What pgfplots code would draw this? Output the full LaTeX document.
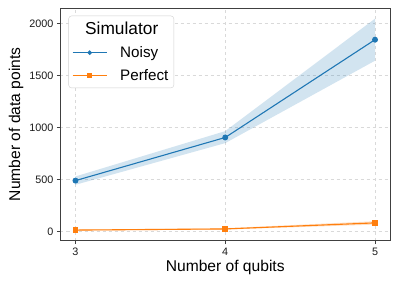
\documentclass[border=0pt]{standalone}
\usepackage{pgfplots}
\pgfplotsset{compat=1.18}
\usepackage{fontspec}
\setmainfont{Liberation Sans}
\definecolor{tabblue}{HTML}{1F77B4}
\definecolor{taborange}{HTML}{FF7F0E}
\begin{document}
\begin{tikzpicture}
\path[use as bounding box] (-60.5pt,-44.3pt) rectangle (338.5pt,240.7pt);
\begin{axis}[
  at={(0,0)}, anchor=south west,
  scale only axis, width=329.5pt, height=232.7pt,
  xmin=2.9, xmax=5.1, ymin=-87, ymax=2147,
  xtick={3,4,5}, ytick={0,500,1000,1500,2000},
  /pgf/number format/assume math mode=true,
  /pgf/number format/1000 sep={},
  tick label style={font=\fontsize{10.8}{12}\selectfont, color=black!90},
  tick align=outside, tick pos=left,
  major tick length=3.5pt,
  tick style={black!75, line width=0.8pt},
  axis line style={black!75, line width=0.9pt},
  grid=major, grid style={dashed, black!15, line width=0.6pt},
  xlabel={Number of qubits}, ylabel={Number of data points},
  label style={font=\fontsize{15.6}{17}\selectfont},
  xlabel style={at={(axis description cs:0.5,0)}, anchor=base, yshift=-31pt},
  ylabel style={at={(axis description cs:0,0.5)}, anchor=base, yshift=40.3pt},
  legend style={at={(axis description cs:0.024,0.967)}, anchor=north west,
    draw=black!18, rounded corners=3pt, fill=white,
    font=\fontsize{15.2}{17}\selectfont, row sep=8.5pt, column sep=11pt,
    inner xsep=3.5pt, inner ysep=5pt,
    nodes={inner xsep=2pt, inner ysep=1pt}},
  legend cell align=left,
  legend image code/.code={\draw[line width=1.1pt, mark size=1.7pt, mark repeat=2,mark phase=2] plot coordinates {(0pt,0pt) (17pt,0pt) (34pt,0pt)};},
]
% bands
\addplot[fill=tabblue, fill opacity=0.2, draw=none, forget plot] coordinates {(3,530) (4,965) (5,2045) (5,1641) (4,850) (3,450)} --cycle;
\addplot[fill=taborange, fill opacity=0.25, draw=none, forget plot] coordinates {(3,20) (4,33) (5,100) (5,68) (4,20) (3,10)} --cycle;
\addlegendimage{empty legend}
\addlegendentry{\hspace*{-35pt}\fontsize{17.3}{19}\selectfont Simulator}
\addplot[tabblue, line width=1.1pt, mark=*, mark size=2.4pt] coordinates {(3,490) (4,904) (5,1843)};
\addlegendentry{Noisy}
\addplot[taborange, line width=1.1pt, mark=square*, mark size=2.4pt] coordinates {(3,15) (4,26) (5,84)};
\addlegendentry{Perfect}
\end{axis}
\end{tikzpicture}
\end{document}
